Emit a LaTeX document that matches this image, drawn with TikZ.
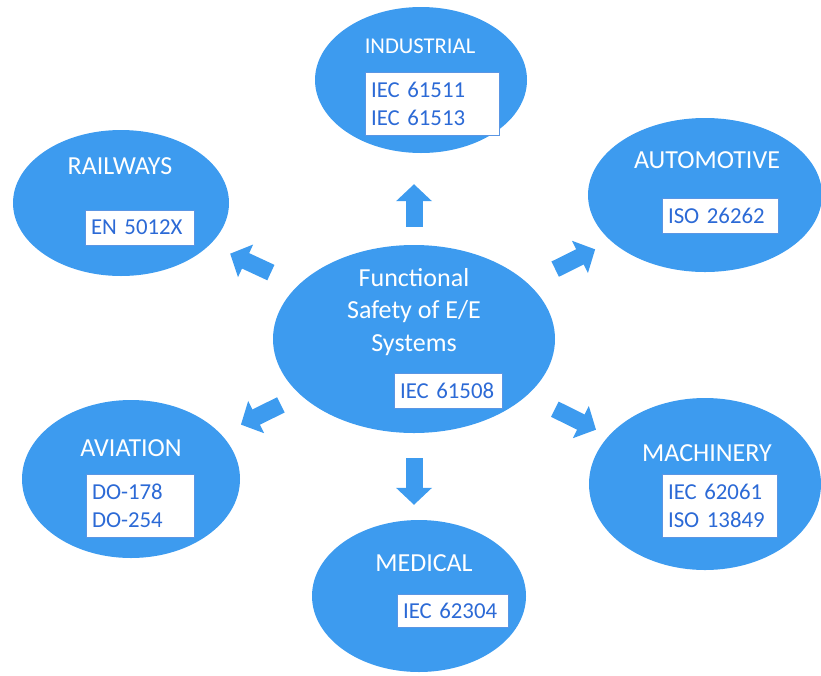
\documentclass[tikz,border=0pt]{standalone}
\usepackage{fontspec}
\setmainfont{Carlito}
\usetikzlibrary{shapes.geometric,arrows.meta}
\definecolor{fieldblue}{RGB}{61,155,239}
\definecolor{stdblue}{RGB}{44,106,214}
\definecolor{boxline}{RGB}{90,150,228}

\begin{document}
\begin{tikzpicture}[x=1pt,y=-1pt,
	field/.style={ellipse,fill=fieldblue,inner sep=0pt},
	title/.style={text=white,inner sep=0pt,font=\fontsize{26}{32.5}\selectfont,align=center},
	std/.style={draw=boxline,line width=0.6pt,fill=white,text=stdblue,inner xsep=6pt,inner ysep=0pt,font=\fontsize{22.8}{28}\selectfont,align=left},
	push/.style={fieldblue,line width=17pt,-{Triangle[length=17pt,width=35pt]}}]
	\useasboundingbox (0,0) rectangle (821,675);
	
	% fields
	\node[field,minimum width=282,minimum height=188] at (414,339) (fs) {};
	\node[field,minimum width=212,minimum height=146] at (421,80)  (ind) {};
	\node[field,minimum width=216,minimum height=146] at (121,203) (rail) {};
	\node[field,minimum width=234,minimum height=154] at (705,195) (auto) {};
	\node[field,minimum width=218,minimum height=158] at (131,479) (avia) {};
	\node[field,minimum width=232,minimum height=172] at (705,484) (mach) {};
	\node[field,minimum width=214,minimum height=152] at (419,596) (med) {};
	
	% titles
	\node[title] at (414,312) (fstitle) {Functional\\Safety of E/E\\Systems};
	\node[title,font=\fontsize{22.6}{28}\selectfont] at (420,46) (indtitle) {INDUSTRIAL};
	\node[title] at (120,166) (railtitle) {RAILWAYS};
	\node[title] at (707,160) (autotitle) {AUTOMOTIVE};
	\node[title] at (131,448) (aviatitle) {AVIATION};
	\node[title] at (707,453) (machtitle) {MACHINERY};
	\node[title] at (424,563) (medtitle) {MEDICAL};
	
	% standards
	\node[std,text width=96,minimum height=35] at (448,390.5) (fsstd) {IEC 61508};
	\node[std,text width=122,minimum height=63] at (432,103.5) (indstd) {IEC 61511\\IEC 61513};
	\node[std,text width=97,minimum height=35] at (139.5,227.5) (railstd) {EN 5012X};
	\node[std,text width=104,minimum height=35] at (720,215.5) (autostd) {ISO 26262};
	\node[std,text width=96,minimum height=63] at (140,505.5) (aviastd) {DO-178\\DO-254};
	\node[std,text width=103,minimum height=63] at (719.5,505.5) (machstd) {IEC 62061\\ISO 13849};
	\node[std,text width=99,minimum height=33] at (452.5,610.5) (medstd) {IEC 62304};
	
	% arrows
	\draw[push,shorten <=18pt,shorten >=31pt] (fs.north) -- (fs.north |- ind.south);
	\draw[push,shorten <=25pt,shorten >=15pt] (fs.south) -- (fs.south |- med.north);
	\draw[push,shorten <=30pt,shorten >=22pt] (fs) -- (rail);
	\draw[push,shorten <=31pt,shorten >=18pt] (fs) -- (auto);
	\draw[push,shorten <=22pt,shorten >=22pt] (fs) -- (avia);
	\draw[push,shorten <=31pt,shorten >=14pt] (fs) -- (mach);
\end{tikzpicture}
\end{document}
